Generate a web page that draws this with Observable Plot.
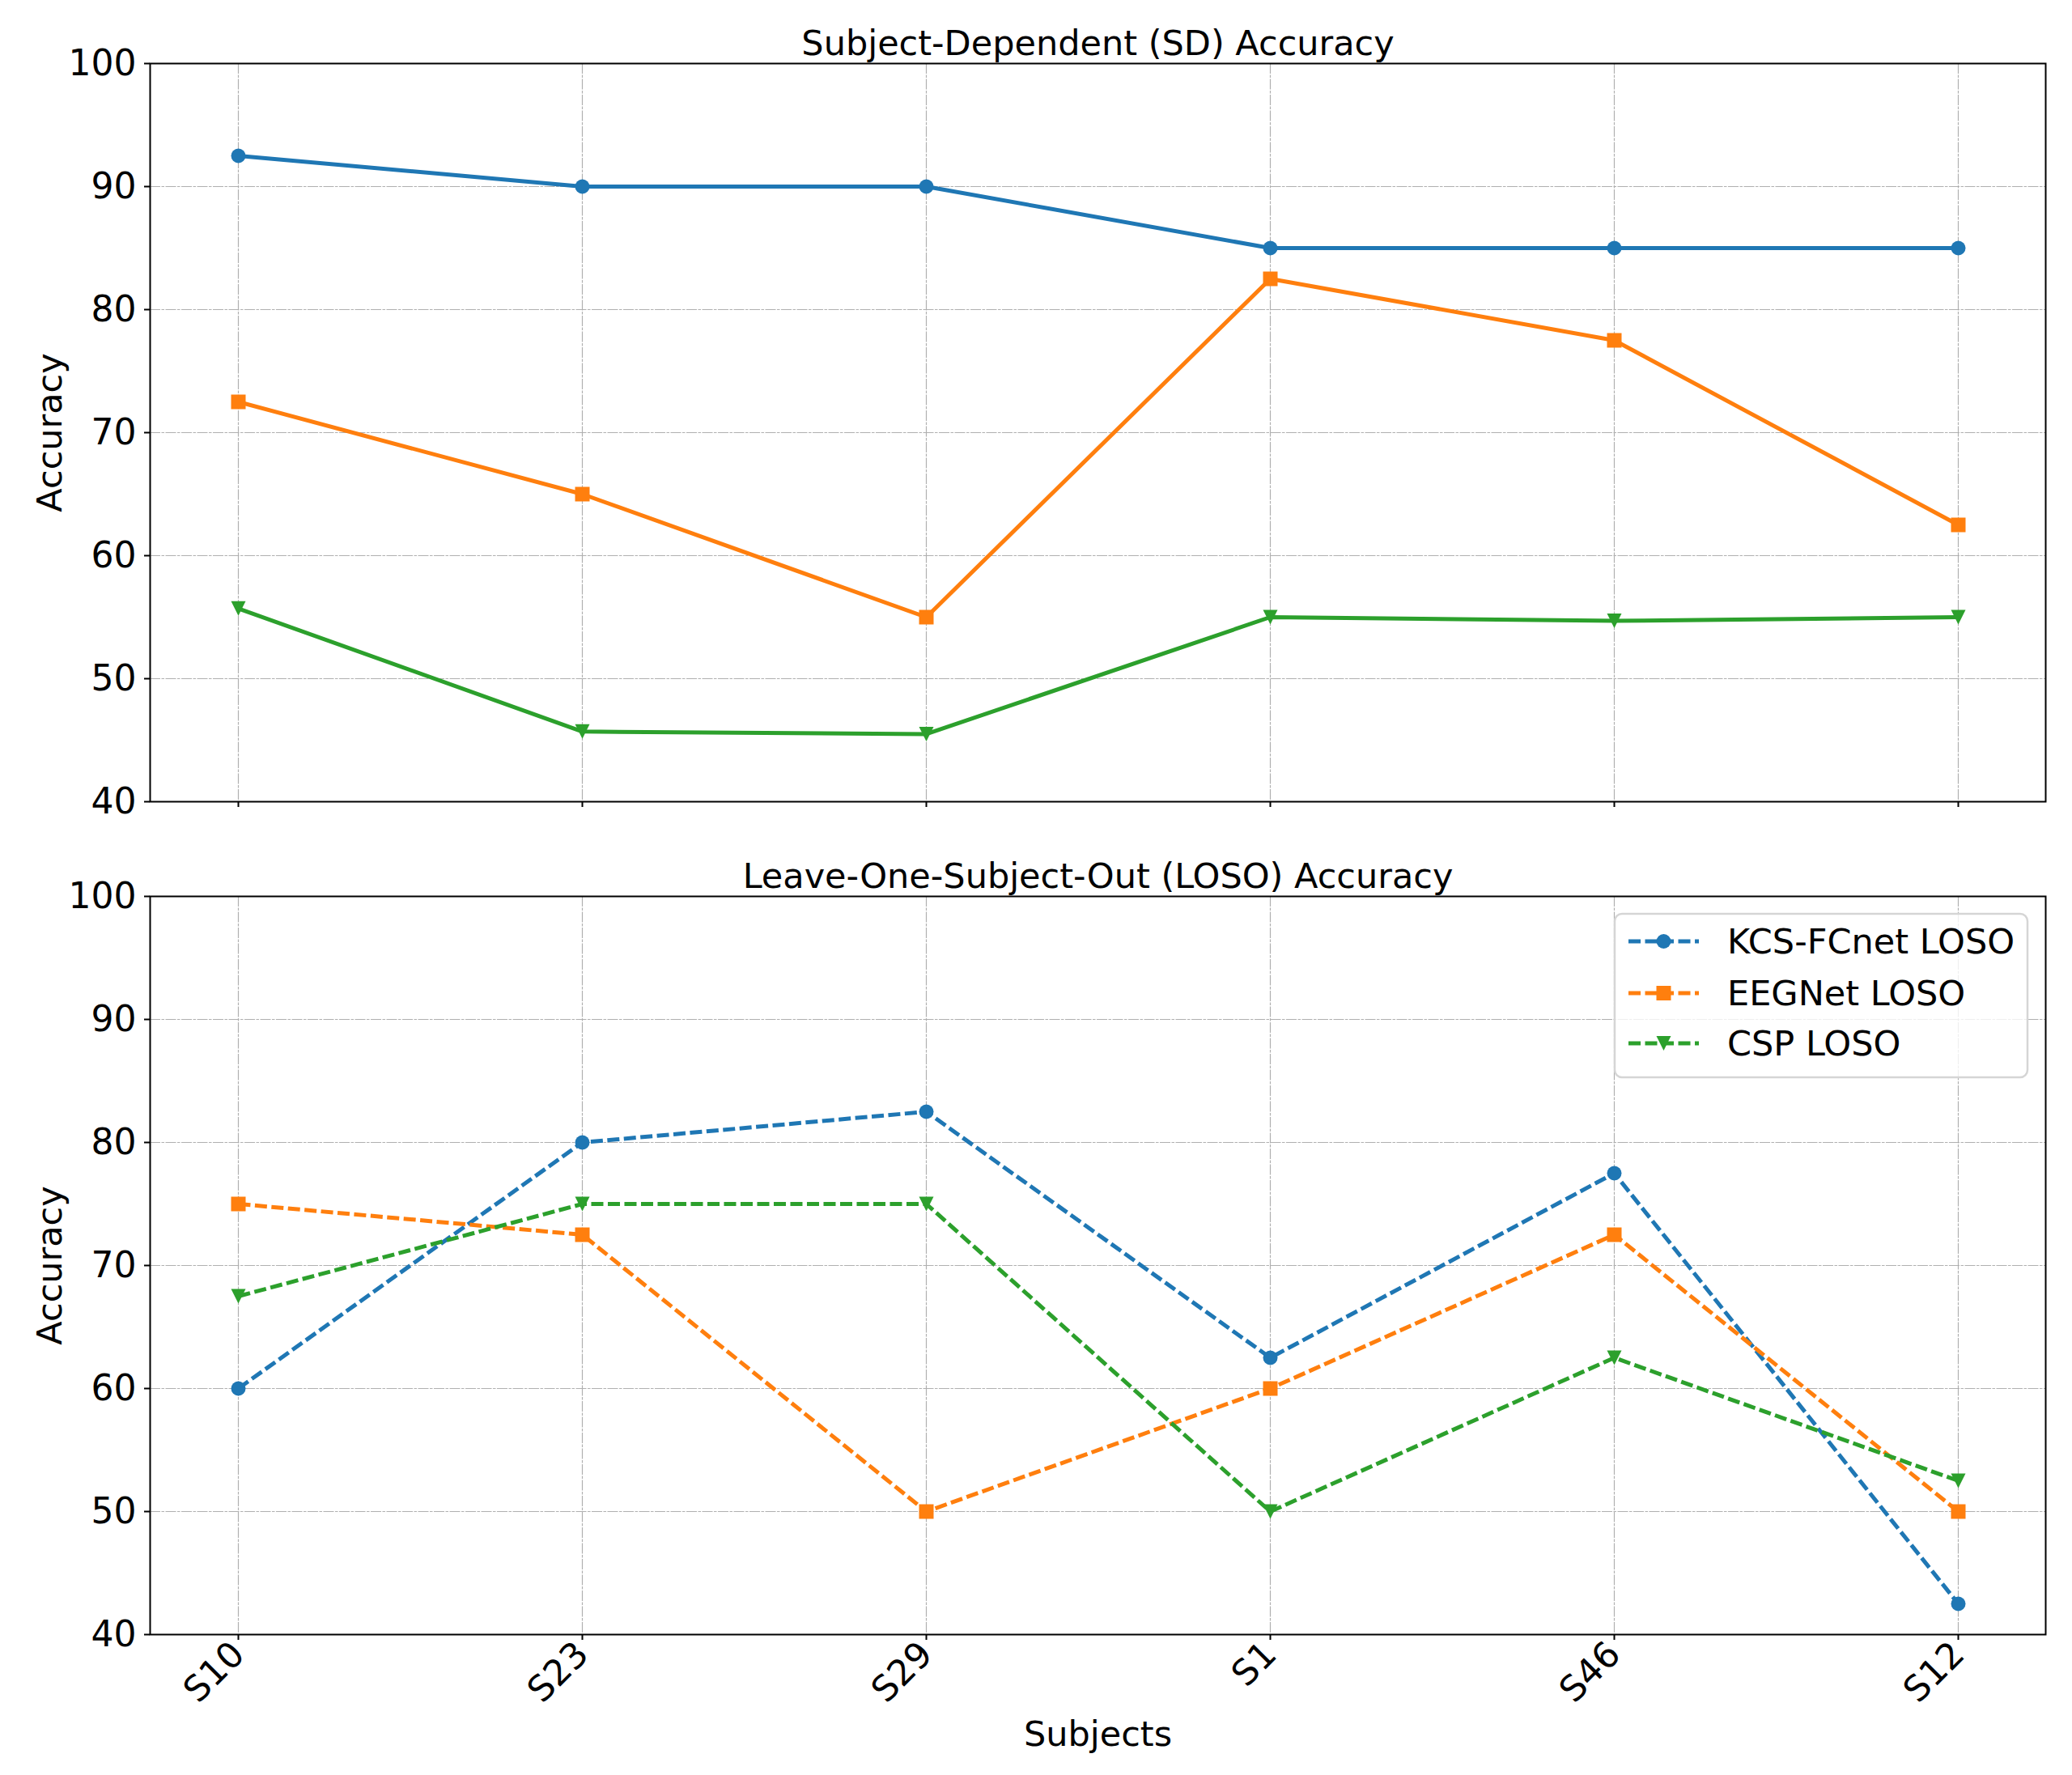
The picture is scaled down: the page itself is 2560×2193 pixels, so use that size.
<!DOCTYPE html>
<html><head><meta charset="utf-8">
<script src="https://cdn.jsdelivr.net/npm/d3@7"></script>
<script src="https://cdn.jsdelivr.net/npm/@observablehq/plot@0.6"></script>
<style>body{margin:0;background:#fff} #chart svg{display:block}</style>
</head><body><div id="chart"></div>
<script>
const subjects = ["S10","S23","S29","S1","S46","S12"];
const yTicks = [40,50,60,70,80,90,100];
const kcsSD = [92.5,90,90,85,85,85];
const eegSD = [72.5,65,55,82.5,77.5,62.5];
const cspSD = [55.7,45.7,45.5,55,54.7,55];
const kcsLOSO = [60,80,82.5,62.5,77.5,42.5];
const eegLOSO = [75,72.5,50,60,72.5,50];
const cspLOSO = [67.5,75,75,50,62.5,52.5];
const seriesNames = ["KCS-FCnet","EEGNet","CSP"];
const legendLabels = ["KCS-FCnet LOSO","EEGNet LOSO","CSP LOSO"];
const colors = ["#1f77b4","#ff7f0e","#2ca02c"];
const titles = ["Subject-Dependent (SD) Accuracy","Leave-One-Subject-Out (LOSO) Accuracy"];

const circleSym = {draw(ctx,size){const r=Math.sqrt(size/Math.PI); ctx.moveTo(r,0); ctx.arc(0,0,r,0,2*Math.PI); ctx.closePath();}};
const squareSym = {draw(ctx,size){const r=Math.sqrt(size/Math.PI); ctx.rect(-r,-r,2*r,2*r);}};
const triDownSym = {draw(ctx,size){const r=Math.sqrt(size/Math.PI); ctx.moveTo(-r,-r); ctx.lineTo(r,-r); ctx.lineTo(0,r); ctx.closePath();}};
const symbols = [circleSym, squareSym, triDownSym];

const FS = 43;
const TFS = 44;
const MR = 9;
const LW = 5;
const DASH = "15,5.5";
const GRID = {stroke:"#b0b0b0", strokeOpacity:1, strokeWidth:1.2, strokeDasharray:"13,1.5,3.5,1.5"};

function rowsOf(arrs){
  return arrs.map((vals,k)=>subjects.map((s,i)=>({subject:s, series:seriesNames[k], value:vals[i]})));
}

function panel({title, arrs, dashed, height, marginTop, marginBottom, xLabels}){
  const rows = rowsOf(arrs);
  const marks = [
    Plot.gridX(subjects, GRID),
    Plot.gridY(yTicks, GRID),
    Plot.axisY({ticks:yTicks, tickSize:7, tickPadding:10, strokeWidth:2, label:null, fontSize:TFS}),
    Plot.axisX({ticks:subjects, tickSize:7, strokeWidth:2, label:null, fontSize:TFS,
      tickFormat: xLabels ? (d=>d) : (()=>""), tickRotate: xLabels ? -45 : 0, tickPadding: 10})
  ];
  rows.forEach((r,k)=>{
    marks.push(Plot.line(r, {x:"subject", y:"value", stroke:colors[k], strokeWidth:LW,
      strokeDasharray: dashed ? DASH : null, strokeLinecap:"butt", strokeLinejoin:"round"}));
  });
  rows.forEach((r,k)=>{
    marks.push(Plot.dot(r, {x:"subject", y:"value", fill:colors[k], stroke:"none", r:MR, symbol:symbols[k]}));
  });
  marks.push(Plot.frame({stroke:"black", strokeWidth:2}));
  marks.push(Plot.text([title], {frameAnchor:"top", dy:-24, lineAnchor:"middle", textAnchor:"middle", fontSize:FS, fill:"black"}));
  marks.push(Plot.text(["Accuracy"], {frameAnchor:"left", dx:-123, rotate:-90, lineAnchor:"middle", textAnchor:"middle", fontSize:FS, fill:"black"}));
  if (xLabels) marks.push(Plot.text(["Subjects"], {frameAnchor:"bottom", dy:124, lineAnchor:"middle", textAnchor:"middle", fontSize:FS, fill:"black"}));
  return Plot.plot({
    width:2560, height, marginLeft:185, marginRight:33, marginTop, marginBottom,
    style:{fontFamily:"DejaVu Sans", fontSize:FS+"px", color:"black", background:"white"},
    x:{type:"point", domain:subjects, padding:0.25},
    y:{domain:[40,100]},
    marks
  });
}

const topPanel = panel({title:titles[0], arrs:[kcsSD,eegSD,cspSD], dashed:false, height:1050, marginTop:78, marginBottom:60, xLabels:false});
const bottomPanel = panel({title:titles[1], arrs:[kcsLOSO,eegLOSO,cspLOSO], dashed:true, height:1143, marginTop:57, marginBottom:174, xLabels:true});

// legend (upper right of bottom panel)
(function(){
  const svg = d3.select(bottomPanel);
  const frameRight = 2560-33, frameTop = 57;
  const bx = frameRight-22-510, by = frameTop+22;
  const g = svg.append("g");
  g.append("rect").attr("x",bx).attr("y",by).attr("width",510).attr("height",202).attr("rx",9)
    .attr("fill","white").attr("fill-opacity",0.8).attr("stroke","#d5d5d5").attr("stroke-width",2.5);
  const rowsY = [56,120,182];
  legendLabels.forEach((lab,k)=>{
    const y = frameTop+rowsY[k];
    const x0 = bx+17, x1 = x0+87;
    g.append("line").attr("x1",x0).attr("x2",x1).attr("y1",y).attr("y2",y)
      .attr("stroke",colors[k]).attr("stroke-width",LW).attr("stroke-dasharray",DASH);
    const p = d3.path(); symbols[k].draw(p, MR*MR*Math.PI);
    g.append("path").attr("d",p.toString()).attr("transform",`translate(${(x0+x1)/2},${y})`).attr("fill",colors[k]);
    g.append("text").attr("x",bx+139).attr("y",y).attr("dy","0.36em")
      .style("text-anchor","start").style("font-family","DejaVu Sans").style("font-size",FS+"px")
      .attr("fill","black").text(lab);
  });
})();

document.getElementById("chart").append(topPanel, bottomPanel);
</script>
</body></html>
